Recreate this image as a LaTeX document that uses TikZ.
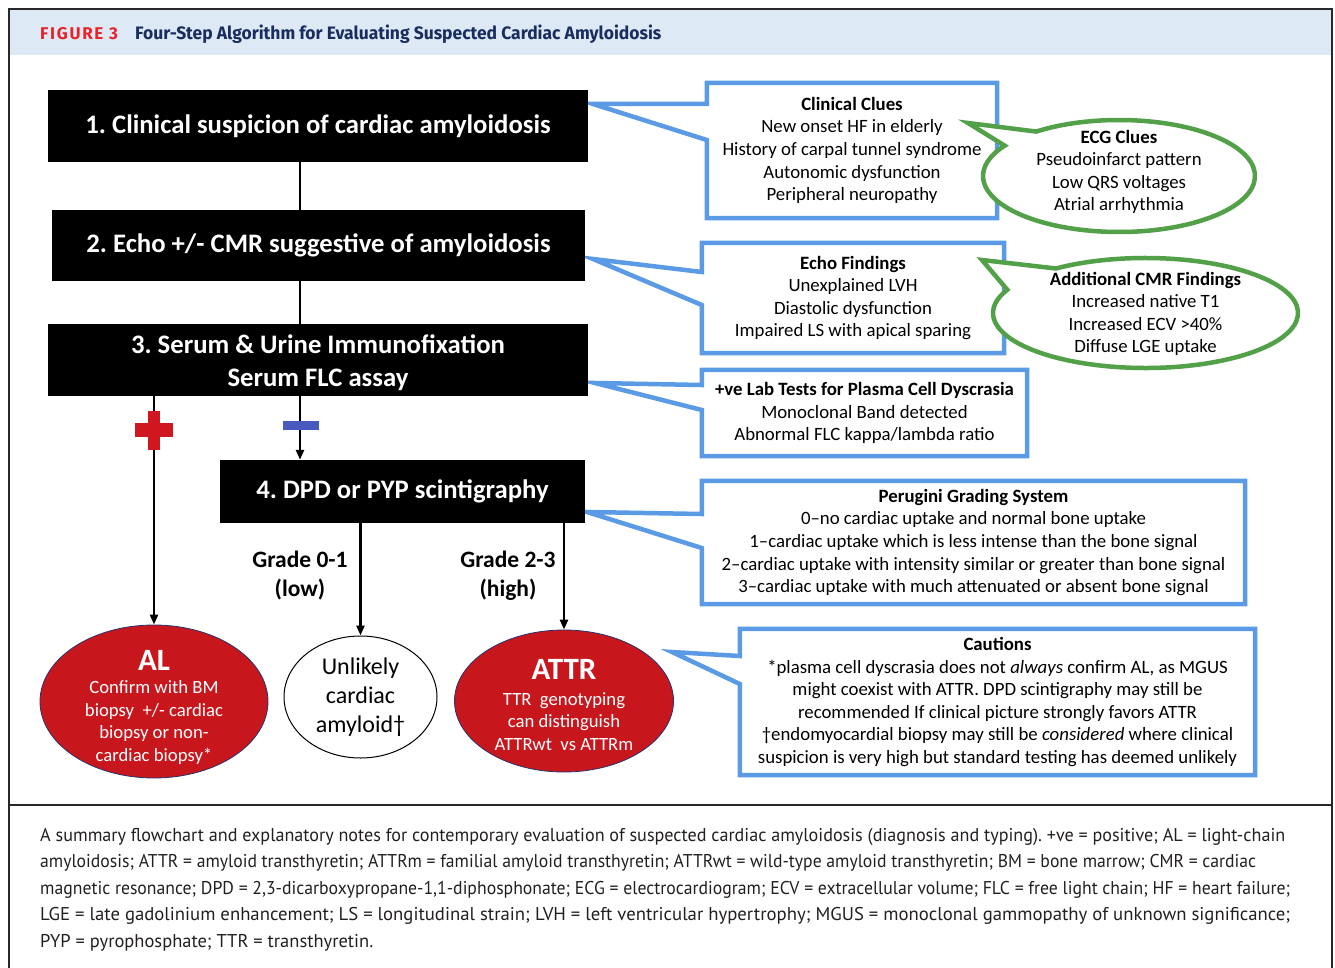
\documentclass[tikz,border=0pt]{standalone}
\usepackage{fontspec}
\usepackage{graphicx}
\setmainfont{Carlito}
\newfontfamily\hdrfont{Fira Sans}[FakeStretch=0.97]
\newfontfamily\figfont{Fira Sans}
\newfontfamily\capfont{PT Sans}
\frenchspacing
\usetikzlibrary{arrows.meta,calc,shapes.geometric,backgrounds}
\definecolor{cblue}{RGB}{91,155,229}
\definecolor{cgreen}{RGB}{82,160,72}
\definecolor{cred}{RGB}{200,22,29}
\definecolor{crossred}{RGB}{208,22,30}
\definecolor{minusblue}{RGB}{72,90,190}
\definecolor{hdrbg}{RGB}{221,233,245}
\definecolor{hdrnavy}{RGB}{25,45,95}
\definecolor{figred}{RGB}{232,35,42}
\definecolor{framecol}{RGB}{40,40,40}
\definecolor{captext}{RGB}{35,31,32}
\definecolor{ovalline}{RGB}{40,50,110}
\begin{document}
\begin{tikzpicture}[x=1pt,y=-1pt,
  stepbox/.style={fill=black,text=white,inner sep=0,align=center,
    font=\fontsize{26.7}{33}\selectfont\bfseries},
  steptext/.style={text=white,inner sep=0,align=center,
    font=\fontsize{26.7}{33}\selectfont\bfseries},
  calltext/.style={align=center,inner sep=0,font=\fontsize{18.8}{22.6}\selectfont},
  bluecall/.style={draw=cblue,line width=4.5pt,fill=white,line join=miter},
  greencall/.style={draw=cgreen,line width=4.5pt,fill=white,line join=miter},
  flow/.style={line width=2.4pt},
  arr/.style={flow,-{Triangle[length=10pt,width=8pt]}},
  oval/.style={ellipse,inner sep=0},
  ovaltext/.style={align=center,inner sep=0,text=white,font=\fontsize{18.7}{22.5}\selectfont},
  ovaltitle/.style={inner sep=0,text=white,font=\fontsize{31}{34}\selectfont\bfseries},
  gradelbl/.style={align=center,inner sep=0,font=\fontsize{23.5}{29}\selectfont\bfseries},
  capline/.style={anchor=base west,inner sep=0,text=captext,font=\capfont\fontsize{18.5}{26}\selectfont}
]
\useasboundingbox (0,0) rectangle (1335,968);
% frame and header
\fill[hdrbg] (9,9) rectangle (1332,55);
\draw[framecol,line width=2pt] (9,968) -- (9,9) -- (1332,9) -- (1332,968);
\draw[framecol,line width=2pt] (9,805) -- (1332,805);
\node[anchor=base west,inner sep=0,text=figred,font=\figfont\bfseries\fontsize{17}{19}\selectfont] (fig) at (40,40) {\addfontfeature{LetterSpace=10}FIGURE 3};
\node[anchor=base west,inner sep=0,text=hdrnavy,font=\hdrfont\bfseries\fontsize{18}{20}\selectfont] (title) at (135,40) {Four-Step Algorithm for Evaluating Suspected Cardiac Amyloidosis};

% step boxes
\node[stepbox,minimum width=540,minimum height=72] (s1) at (318,126) {1. Clinical suspicion of cardiac amyloidosis};
\node[stepbox,minimum width=533,minimum height=71] (s2) at (318.5,245.5) {2. Echo +/- CMR suggestive of amyloidosis};
\node[stepbox,minimum width=540,minimum height=72] (s3) at (318,360) {};
\node[steptext] (s3t) at (318,363) {3. Serum \& Urine Immunofixation\\Serum FLC assay};
\node[stepbox,minimum width=365,minimum height=63] (s4) at (402.5,491.5) {4. DPD or PYP scintigraphy};
\coordinate (spine) at (300,0);

% outcome ovals
\node[oval,fill=cred,draw=ovalline,line width=0.8pt,minimum width=228,minimum height=153] (al) at (154,701.5) {};
\node[oval,fill=white,draw=black,line width=1pt,minimum width=153,minimum height=122] (un) at (360.5,697) {};
\node[oval,fill=cred,draw=ovalline,line width=0.8pt,minimum width=219,minimum height=142] (attr) at (564,701) {};
\node[ovaltitle] (alt) at (154,660) {AL};
\node[ovaltext] (alb) at (154,722.5) {Confirm with BM\\biopsy\ \ +/- cardiac\\biopsy or non-\\cardiac biopsy*};
\node[align=center,inner sep=0,font=\fontsize{24}{29}\selectfont] (unt) at (360.5,697) {Unlikely\\cardiac\\amyloid†};
\node[ovaltitle] (attrt) at (564,669) {ATTR};
\node[ovaltext] (attrb) at (564,721.5) {TTR\ \ genotyping\\can distinguish\\ATTRwt\ \ vs ATTRm};

% grade labels
\node[gradelbl] (g01) at (300,575.5) {Grade 0-1\\(low)};
\node[gradelbl] (g23) at (508,575.5) {Grade 2-3\\(high)};

% connectors
\draw[flow] (s1.south -| spine) -- (s2.north -| spine);
\draw[flow] (s2.south -| spine) -- (s3.north -| spine);
\draw[arr] (s3.south -| spine) -- (s4.north -| spine);
\draw[arr] (s3.south -| al.north) -- (al.north);
\draw[arr] (s4.south -| un.north) -- (un.north);
\draw[arr] (s4.south -| attr.north) -- (attr.north);
\node[fill=crossred,inner sep=0,minimum width=12,minimum height=39] (plusv) at (154,430.5) {};
\node[fill=crossred,inner sep=0,minimum width=38,minimum height=14] (plush) at (154,430) {};
\node[fill=minusblue,inner sep=0,minimum width=36,minimum height=9] (minus) at (301,425.5) {};

% callout texts
\node[calltext,minimum width=290,minimum height=135] (cc) at (852,150.5) {\textbf{Clinical Clues}\\New onset HF in elderly\\History of carpal tunnel syndrome\\Autonomic dysfunction\\Peripheral neuropathy};
\node[calltext,minimum width=302,minimum height=110] (ef) at (853,298) {\textbf{Echo Findings}\\Unexplained LVH\\Diastolic dysfunction\\Impaired LS with apical sparing};
\node[calltext,minimum width=325,minimum height=86] (lab) at (864.5,413) {\textbf{+ve Lab Tests for Plasma Cell Dyscrasia}\\Monoclonal Band detected\\Abnormal FLC kappa/lambda ratio};
\node[calltext,minimum width=543,minimum height=123] (pg) at (973.5,542.5) {\textbf{Perugini Grading System}\\0–no cardiac uptake and normal bone uptake\\1–cardiac uptake which is less intense than the bone signal\\2–cardiac uptake with intensity similar or greater than bone signal\\3–cardiac uptake with much attenuated or absent bone signal};
\node[calltext,minimum width=515,minimum height=146] (ca) at (997.5,702) {\textbf{Cautions}\\*plasma cell dyscrasia does not \textit{always} confirm AL, as MGUS\\might coexist with ATTR. DPD scintigraphy may still be\\recommended If clinical picture strongly favors ATTR\\†endomyocardial biopsy may still be \textit{considered} where clinical\\suspicion is very high but standard testing has deemed unlikely};
\coordinate (ecgc) at (1119,176);
\coordinate (cmrc) at (1145.5,313);
\node[calltext] (ecg) at (1119,172) {\textbf{ECG Clues}\\Pseudoinfarct pattern\\Low QRS voltages\\Atrial arrhythmia};
\node[calltext] (cmr) at (1145.5,314) {\textbf{Additional CMR Findings}\\Increased native T1\\Increased ECV >40\%\\Diffuse LGE uptake};

% pointer coordinates
\coordinate (cctip) at (593,104);  \coordinate (ccb1) at (0,104);  \coordinate (ccb2) at (0,140);
\coordinate (eftip) at (593,259);  \coordinate (efb1) at (0,272);  \coordinate (efb2) at (0,305);
\coordinate (labtip) at (595,383); \coordinate (labb1) at (0,385); \coordinate (labb2) at (0,410);
\coordinate (pgtip) at (587,512);  \coordinate (pgb1) at (0,514);  \coordinate (pgb2) at (0,548);
\coordinate (catip) at (672,652);  \coordinate (cab1) at (0,656);  \coordinate (cab2) at (0,684);
\coordinate (ecgtip) at (968,123);
\coordinate (cmrtip) at (982,260);

\begin{scope}[on background layer]
\foreach \n in {cc,ef,lab,pg,ca}{
  \draw[bluecall] (\n tip) -- (\n.west |- \n b1) -- (\n.north west) -- (\n.north east)
     -- (\n.south east) -- (\n.south west) -- (\n.west |- \n b2) -- cycle;
}
\draw[greencall] (ecgtip) -- ($(ecgc)+(232.5:136 and 56)$)
   arc[start angle=232.5,end angle=572.8,x radius=136,y radius=56] -- cycle;
\draw[greencall] (cmrtip) -- ($(cmrc)+(234:152.5 and 55)$)
   arc[start angle=234,end angle=565,x radius=152.5,y radius=55] -- cycle;
\end{scope}

% caption
\node[capline] (cap1) at (40,841) {\resizebox{1245pt}{\height}{A summary flowchart and explanatory notes for contemporary evaluation of suspected cardiac amyloidosis (diagnosis and typing). +ve = positive; AL = light-chain}};
\node[capline] (cap2) at (40,867.5) {\resizebox{1216pt}{\height}{amyloidosis; ATTR = amyloid transthyretin; ATTRm = familial amyloid transthyretin; ATTRwt = wild-type amyloid transthyretin; BM = bone marrow; CMR = cardiac}};
\node[capline] (cap3) at (40,894) {\resizebox{1250pt}{\height}{magnetic resonance; DPD = 2,3-dicarboxypropane-1,1-diphosphonate; ECG = electrocardiogram; ECV = extracellular volume; FLC = free light chain; HF = heart failure;}};
\node[capline] (cap4) at (40,920.5) {\resizebox{1250pt}{\height}{LGE = late gadolinium enhancement; LS = longitudinal strain; LVH = left ventricular hypertrophy; MGUS = monoclonal gammopathy of unknown significance;}};
\node[capline] (cap5) at (40,947) {\resizebox{333pt}{\height}{PYP = pyrophosphate; TTR = transthyretin.}};
\end{tikzpicture}
\end{document}
